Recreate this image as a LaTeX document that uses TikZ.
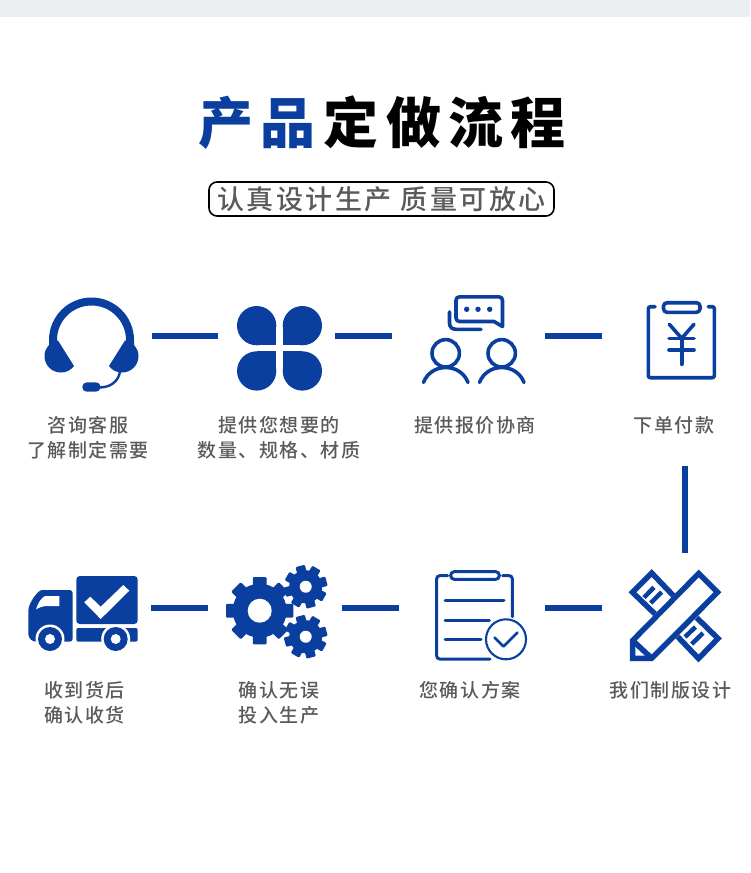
\documentclass[tikz,border=0pt]{standalone}
\usepackage{fontspec}
\setmainfont{Noto Sans CJK SC}
\newfontfamily\titlefont[LetterSpace=13]{Noto Sans CJK SC Black}
\newfontfamily\subfont[LetterSpace=9.5]{Noto Sans CJK SC Medium}
\newfontfamily\labelfont[LetterSpace=8]{Noto Sans CJK SC Medium}
\definecolor{bluemain}{HTML}{0A3FA0}
\definecolor{bandgray}{HTML}{ECEFF2}
\definecolor{textgray}{HTML}{5A5A5A}
\tikzset{
	iconbox/.style={inner sep=0pt, outer sep=0pt, minimum height=110pt},
	linkbar/.style={draw=bluemain, line width=5.5pt},
	iconline/.style={draw=bluemain, line width=3.6pt, line cap=round, line join=round},
	iconfill/.style={fill=bluemain},
	rulerline/.style={draw=bluemain, line width=5.5pt, line join=miter},
	tickline/.style={draw=bluemain, line width=4.5pt},
	steplabel/.style={align=center, text=textgray, font=\labelfont\fontsize{19}{25}\selectfont},
}
\newcommand{\gearicon}[7]{
	\begin{scope}[shift={(#1,#2)}, rotate=#6]
		\fill[iconfill] (0,0) circle (#4);
		\foreach \a in {0,45,...,315}
			\fill[iconfill, rotate=\a, rounded corners=1pt] (-#7,0) rectangle (#7,#3);
		\fill[white] (0,0) circle (#5);
	\end{scope}
}
\newcommand{\petalicon}[4]{
	\fill[iconfill] (#1,#2) circle (19.65);
	\fill[iconfill] (#1,#2) rectangle (#3,#4);
}
\begin{document}
\begin{tikzpicture}[x=1pt, y=-1pt]
	\useasboundingbox (0,0) rectangle (750,873);
	\fill[bandgray] (0,0) rectangle (750,17);

	\node[anchor=center, font=\titlefont\fontsize{55}{60}\selectfont] (title) at (382,123) {\textcolor{bluemain}{产品}\hspace{8pt}定做流程};
	\node[draw, line width=1.6pt, rounded corners=8pt, minimum width=345pt, minimum height=34pt, inner sep=0pt, text=textgray, font=\subfont\fontsize{27}{30}\selectfont] (slogan) at (381.5,199) {认真设计生产 质量可放心};

	\node[iconbox, minimum width=122pt] (kefu) at (91,336) {};
	\node[iconbox, minimum width=117pt] (shuliang) at (276.5,336) {};
	\node[iconbox, minimum width=153pt] (xieshang) at (468.5,336) {};
	\node[iconbox, minimum width=148pt] (fukuan) at (676,336) {};
	\node[iconbox, minimum width=148pt] (zhiban) at (676,608) {};
	\node[iconbox, minimum width=146pt] (fangan) at (472,608) {};
	\node[iconbox, minimum width=134pt] (queren) at (275,608) {};
	\node[iconbox, minimum width=131pt] (shouhuo) at (85.5,608) {};
	\coordinate (fukuanend) at (685,466);
	\coordinate (zhibanend) at (685,553);

	\draw[linkbar] (kefu) -- (shuliang);
	\draw[linkbar] (shuliang) -- (xieshang);
	\draw[linkbar] (xieshang) -- (fukuan);
	\draw[linkbar] (fukuanend) -- (zhibanend);
	\draw[linkbar] (zhiban) -- (fangan);
	\draw[linkbar] (fangan) -- (queren);
	\draw[linkbar] (queren) -- (shouhuo);

	\node[steplabel] (kefutext) at (88,437.5) {咨询客服\\了解制定需要};
	\node[steplabel] (shuliangtext) at (279,437.5) {提供您想要的\\数量、规格、材质};
	\node[steplabel] (xieshangtext) at (475,425) {提供报价协商};
	\node[steplabel] (fukuantext) at (674,425) {下单付款};
	\node[steplabel] (shouhuotext) at (84.5,702.5) {收到货后\\确认收货};
	\node[steplabel] (querentext) at (279,702.5) {确认无误\\投入生产};
	\node[steplabel] (fangantext) at (470,690) {您确认方案};
	\node[steplabel] (zhibantext) at (670.5,690) {我们制版设计};

	% headset
	\draw[bluemain, line width=8pt] (53,345) -- (53,340) arc[start angle=180, end angle=0, x radius=38.5, y radius=-38.5] -- (130,345);
	\fill[iconfill] (58,340.5) .. controls (50,342) and (44.5,348) .. (44.5,356) .. controls (44.5,365.5) and (52,372.5) .. (61,372.5) .. controls (66.5,372.5) and (71,370) .. (74,366) -- cycle;
	\fill[iconfill] (125,340.5) .. controls (133,342) and (138.5,348) .. (138.5,356) .. controls (138.5,365.5) and (131,372.5) .. (122,372.5) .. controls (116.5,372.5) and (112,370) .. (109,366) -- cycle;
	\draw[bluemain, line width=2.4pt] (99,387.5) .. controls (110,387.5) and (118,382) .. (120,372);
	\fill[iconfill, rounded corners=4.5pt] (82.3,382.3) rectangle (100.5,391.7);

	% clover
	\petalicon{256.65}{325.65}{276.3}{345.3}
	\petalicon{302.35}{325.65}{282.7}{345.3}
	\petalicon{256.65}{370.95}{276.3}{351.3}
	\petalicon{302.35}{370.95}{282.7}{351.3}

	% people with speech bubbles
	\draw[iconline] (445.7,353.3) circle (13.7);
	\draw[iconline] (501.7,353.3) circle (13.7);
	\draw[iconline] (423.5,382.5) .. controls (427,373) and (436,367.5) .. (445.7,367.5) .. controls (455.5,367.5) and (464.5,373) .. (468,382.5);
	\draw[iconline] (479.5,382.5) .. controls (483,373) and (492,367.5) .. (501.7,367.5) .. controls (511.5,367.5) and (520.5,373) .. (524,382.5);
	\draw[iconline] (459.5,296.8) -- (499,296.8) .. controls (501,296.8) and (502.5,298.3) .. (502.5,300.3) -- (502.5,326.5) -- (494,321.5) -- (459.5,321.5) .. controls (457.5,321.5) and (456,320) .. (456,318) -- (456,300.3) .. controls (456,298.3) and (457.5,296.8) .. (459.5,296.8) -- cycle;
	\draw[iconline] (449.5,312) -- (449.5,323) .. controls (449.5,327) and (452,329.3) .. (456,329.3) -- (481,329.3);
	\foreach \dotx in {466.7,478,489.7}
		\fill[iconfill] (\dotx,309.3) circle (2.7);

	% order clipboard
	\draw[iconline, rounded corners=2pt] (655,306.7) -- (648.3,306.7) -- (648.3,377.7) -- (714.3,377.7) -- (714.3,306.7) -- (708.3,306.7);
	\draw[iconline, rounded corners=3.5pt] (663.5,302.7) rectangle (700,312.3);
	\draw[iconline] (669.3,324.3) -- (681.7,338.3) -- (694,324.3);
	\draw[iconline] (669,338.3) -- (694,338.3);
	\draw[iconline] (669,350) -- (694,350);
	\draw[iconline] (681.7,338.3) -- (681.7,364.3);

	% ruler and pencil
	\draw[rulerline] (655,614) -- (632.5,592.3) -- (651.7,573) -- (673.3,595.6);
	\draw[rulerline] (677.5,636.5) -- (698.5,658.5) -- (718,638.5) -- (696.7,617.7);
	\draw[rulerline] (632.7,658.3) -- (632.7,640.5) -- (698.7,573.5) -- (717.5,592.3) -- (651.7,658.3) -- cycle;
	\draw[rulerline] (632.7,640.5) -- (651.7,658.3);
	\draw[tickline] (644,597.5) -- (654,587.3);
	\draw[tickline] (650.7,603) -- (661.7,592);
	\draw[tickline] (685,637) -- (695.5,627);
	\draw[tickline] (691.7,644) -- (703,633);

	% plan clipboard with tick
	\draw[iconline, line width=3pt, rounded corners=3pt] (447.7,575.7) -- (436.7,575.7) -- (436.7,659) -- (490,659);
	\draw[iconline, line width=3pt, rounded corners=3pt] (502.7,575.7) -- (512.3,575.7) -- (512.3,616.7);
	\draw[iconline, line width=3pt, rounded corners=3.5pt] (450.7,571.7) rectangle (499.3,579.3);
	\draw[iconline, line width=3pt] (445,600.3) -- (504,600.3);
	\draw[iconline, line width=3pt] (445,620) -- (489.3,620);
	\draw[iconline, line width=3pt] (445,639.3) -- (481,639.3);
	\draw[iconline, line width=2.1pt] (506,639.3) circle (20);
	\draw[iconline, line width=2.6pt] (494.5,637.5) -- (503.5,646.5) -- (517.5,632.5);

	% gears
	\gearicon{259.7}{610.7}{33.7}{27}{12}{0}{6.8}
	\gearicon{305.7}{586.7}{21.5}{16.5}{6}{15}{4.8}
	\gearicon{305.7}{636.7}{21.5}{16.5}{6}{15}{4.8}

	% truck
	\fill[iconfill, rounded corners=3.5pt] (76.3,624) -- (76.3,576) -- (137.7,576) -- (137.7,624) -- cycle;
	\fill[iconfill, rounded corners=2pt] (76.3,628) -- (137.7,628) -- (137.7,641.7) -- (76.3,641.7) -- cycle;
	\fill[iconfill, rounded corners=3pt] (72.7,641.7) -- (72.7,590) -- (45,590) .. controls (38,590) and (28.3,603) .. (28.3,614) -- (28.3,637) -- (33,641.7) -- cycle;
	\fill[white] (84.3,602.3) -- (90.3,596.7) -- (100.7,606.7) -- (123.3,585) -- (129.3,590.7) -- (100.7,619) -- cycle;
	\fill[white] (36,609.3) .. controls (38,603) and (41,598) .. (45,596) -- (59.3,596) -- (59.3,606) -- (47,606) .. controls (43,606) and (39,607.5) .. (36,609.3) -- cycle;
	\fill[white] (50,639) circle (14.5);
	\fill[white] (115.7,639) circle (14.5);
	\fill[iconfill] (50,639) circle (12);
	\fill[iconfill] (115.7,639) circle (12);
	\fill[white] (50,639) circle (5);
	\fill[white] (115.7,639) circle (5);
\end{tikzpicture}
\end{document}
